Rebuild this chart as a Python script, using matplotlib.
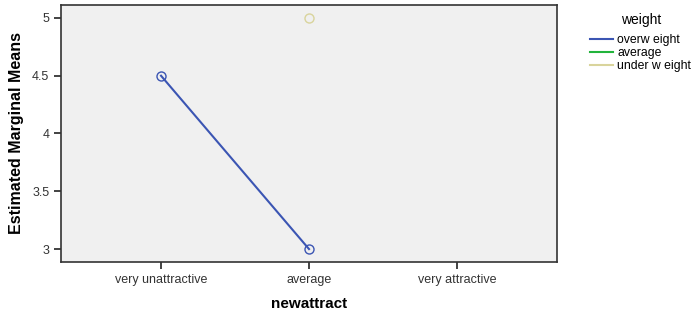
import numpy as np
import matplotlib.pyplot as plt
from matplotlib.lines import Line2D

plt.rcParams['font.family'] = ['Liberation Sans', 'DejaVu Sans']

categories = ['very unattractive', 'average', 'very attractive']
groups = ['overw eight', 'average', 'under w eight']
colors = ['#3b55b3', '#22b43c', '#d9d49c']
# nan = no estimate for that cell
means = {
    'overw eight': [4.5, 3.0, np.nan],
    'average': [np.nan, np.nan, np.nan],
    'under w eight': [np.nan, 5.0, np.nan],
}

fig = plt.figure(figsize=(7, 3.14), dpi=100, facecolor='w')
ax = fig.add_axes([61/700, 1-262/314, 496/700, 257/314])
ax.set_facecolor('#f0f0f0')

x = np.arange(len(categories))
for g, c in zip(groups, colors):
    ax.plot(x, means[g], color=c, lw=1.5, marker='o', ms=6.5,
            mfc='none', mec=c, mew=1.0)

ax.set_xlim(-0.676, 2.676)
ax.set_ylim(2.888, 5.112)
ax.set_xticks(x)
ax.set_xticklabels(categories, fontsize=9)
ax.set_yticks([3, 3.5, 4, 4.5, 5])
ax.set_yticklabels(['3', '3.5', '4', '4.5', '5'], fontsize=9)
ax.tick_params(direction='out', length=5, width=1.2, colors='#222222')
for lbl in ax.get_xticklabels() + ax.get_yticklabels():
    lbl.set_color('#333333')
for s in ax.spines.values():
    s.set_linewidth(1.2)
    s.set_color('#333333')

ax.set_xlabel('newattract', fontsize=11, fontweight='bold', labelpad=8)
ax.set_ylabel('Estimated Marginal Means', fontsize=11.5, fontweight='bold', labelpad=6)

handles = [Line2D([], [], color=c, lw=1.5) for c in colors]
leg = fig.legend(handles, groups, title='weight', loc='upper left',
                 bbox_to_anchor=(588/700, 1-11/314), frameon=False,
                 fontsize=8.8, title_fontsize=10, handlelength=1.85,
                 handletextpad=0.35, labelspacing=0.06, borderpad=0.2,
                 borderaxespad=0)
leg._legend_box.sep = 5

plt.savefig('out.png', dpi=100)
